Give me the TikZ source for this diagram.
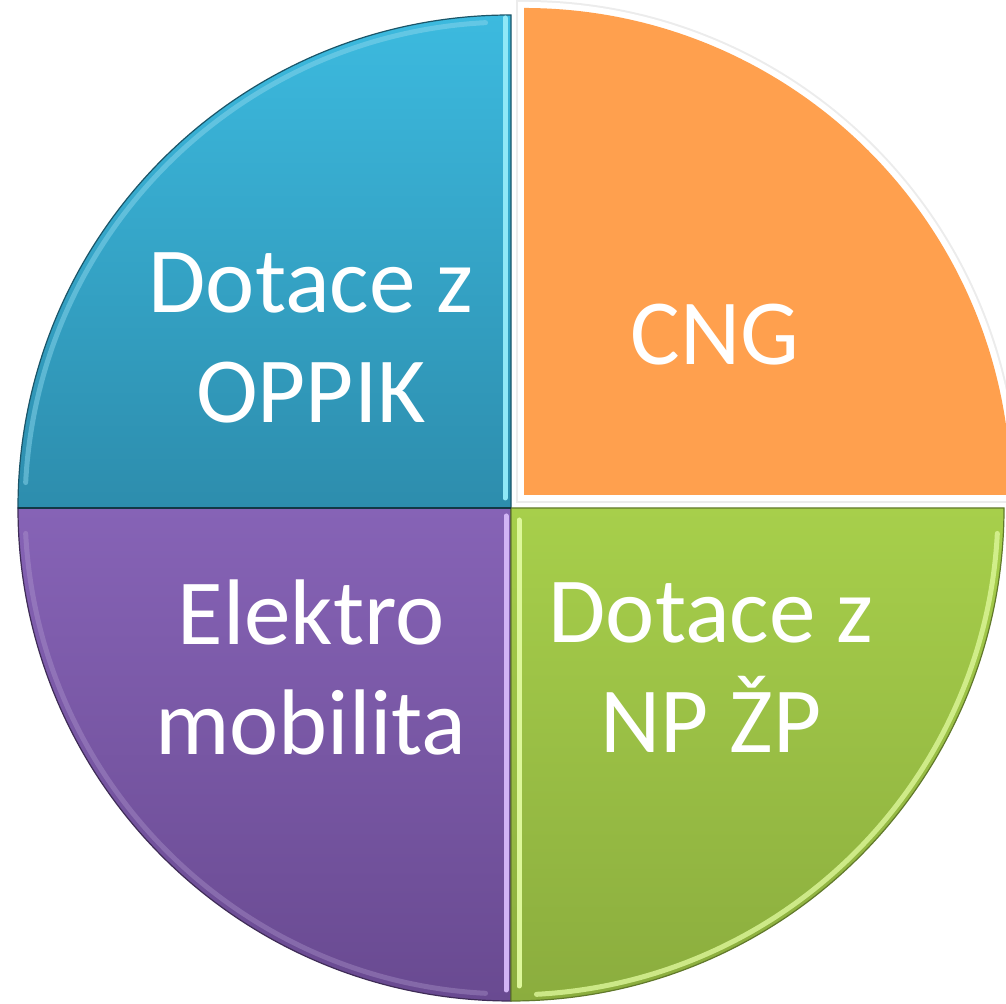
\documentclass[tikz,border=0pt]{standalone}
\usepackage{fontspec}
\setmainfont{Carlito}

\definecolor{oppikTop}{HTML}{3CBADF}
\definecolor{oppikBot}{HTML}{2D8DAD}
\definecolor{oppikHi}{HTML}{8FE8F7}
\definecolor{cngFill}{HTML}{FFA04E}
\definecolor{elektroTop}{HTML}{8663B6}
\definecolor{elektroBot}{HTML}{694A91}
\definecolor{elektroHi}{HTML}{D2B4F5}
\definecolor{npzpTop}{HTML}{A7CF4B}
\definecolor{npzpBot}{HTML}{8BAD3E}
\definecolor{npzpHi}{HTML}{DDF79A}

\begin{document}
\begin{tikzpicture}[x=0.01cm, y=0.01cm,
    wedge/.style={draw=#1, line width=0.012cm},
    bevel/.style={draw=#1, line width=0.05cm, line cap=round},
    caption/.style={text=white, font=\fontsize{26.5}{31.3}\selectfont,
      align=center, anchor=base, inner sep=0pt}]
  \useasboundingbox (0,0) rectangle (1006,1004);
  \clip (0,0) rectangle (1006,1004);

  \coordinate (c) at (511,496);
  \coordinate (co) at (524,509);

  % Dotace z OPPIK
  \path[wedge=oppikBot!60!black, top color=oppikTop, bottom color=oppikBot]
    (c) -- ++(180:493) arc (180:90:493) -- cycle;
  \draw[bevel=oppikTop!60!white, opacity=0.5] (c) ++(177:486) arc (177:93:486);
  \draw[bevel=oppikHi] (505,986) -- (505,506);

  % Elektromobilita
  \path[wedge=elektroBot!60!black, top color=elektroTop, bottom color=elektroBot]
    (c) -- ++(270:493) arc (270:180:493) -- cycle;
  \draw[bevel=elektroTop!60!white, opacity=0.35] (c) ++(267:486) arc (267:183:486);
  \draw[bevel=elektroHi] (506,488) -- (506,14);

  % Dotace z NP ZP
  \path[wedge=npzpBot!70!black, top color=npzpTop, bottom color=npzpBot]
    (c) -- ++(0:493) arc (0:-90:493) -- cycle;
  \draw[bevel=npzpHi, opacity=0.8] (c) ++(-3:487) arc (-3:-87:487);
  \draw[bevel=npzpHi] (519,484) -- (519,18);

  % hrana mezi modrou a fialovou
  \draw[oppikBot!40!black, line width=0.015cm] (c) -- ++(180:493);

  % CNG (vysunuta vysec)
  \draw[gray!15, line width=0.16cm] (co) -- ++(0:487) arc (0:90:487) -- cycle;
  \draw[white, line width=0.12cm] (co) -- ++(0:487) arc (0:90:487) -- cycle;
  \fill[cngFill] (co) -- ++(0:487) arc (0:90:487) -- cycle;

  \node[caption] (oppik) at (311,581) {Dotace z\\OPPIK};
  \node[caption] (cng) at (715,639) {CNG};
  \node[caption] (elektro) at (311,249) {Elektro\\mobilita};
  \node[caption] (npzp) at (711,251) {Dotace z\\NP ŽP};
\end{tikzpicture}
\end{document}
